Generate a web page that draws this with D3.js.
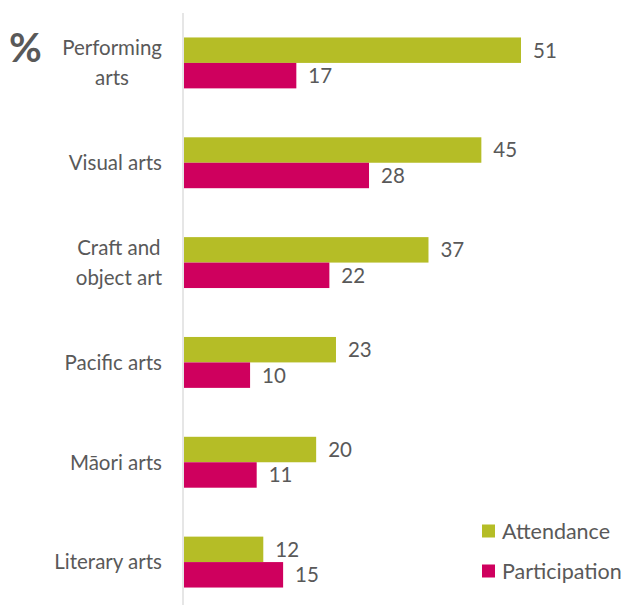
<!DOCTYPE html>
<html><head><meta charset="utf-8">
<script src="https://cdn.jsdelivr.net/npm/d3@7"></script>
<style>body{margin:0;background:#fff}svg{display:block}text{font-family:Lato,"Open Sans",sans-serif}</style>
</head><body>
<svg id="c" width="624" height="605"></svg>
<script>
const categories = [["Performing","arts"],["Visual arts"],["Craft and","object art"],["Pacific arts"],["Māori arts"],["Literary arts"]];
const seriesNames = ["Attendance","Participation"];
const attendance = [51,45,37,23,20,12];
const participation = [17,28,22,10,11,15];
const colors = ["#B5BD26","#CF005E"];

const svg = d3.select("#c");
const x0 = 184;
const x = d3.scaleLinear().domain([0,51]).range([x0, 521]);
const keys = categories.map((c,i)=>i);
const y = d3.scaleBand().domain(keys).range([13, 612]).paddingInner(0.49).paddingOuter(0.245);
const yi = d3.scaleBand().domain([0,1]).range([0, y.bandwidth()]);
const gray = "#595959";

svg.append("line").attr("x1",183).attr("x2",183).attr("y1",13).attr("y2",605)
  .attr("stroke","#d9d9d9").attr("stroke-width",1.3);

const series = [attendance, participation];
keys.forEach(i=>{
  series.forEach((s,j)=>{
    const yy = y(i)+yi(j);
    svg.append("rect").attr("x",x(0)).attr("y",yy).attr("width",x(s[i])-x(0)).attr("height",yi.bandwidth())
      .attr("fill",colors[j]);
    svg.append("text").attr("x",x(s[i])+12).attr("y",yy+yi.bandwidth()/2).attr("dy","0.36em")
      .attr("font-size",20.5).attr("fill",gray).text(s[i]);
  });
  const lines = categories[i];
  const cy = y(i)+y.bandwidth()/2;
  const g = svg.append("text").attr("font-size",20.5).attr("fill",gray).attr("text-anchor","middle");
  const ts = lines.map((l,k)=>g.append("tspan").text(l));
  const w = d3.max(ts, t=>t.node().getComputedTextLength());
  const cx = 162 - w/2;
  const lh = 30;
  ts.forEach((t,k)=>t.attr("x",cx).attr("y",cy + (k-(lines.length-1)/2)*lh).attr("dy","0.36em"));
});

svg.append("text").attr("x",9).attr("y",62).attr("font-size",40).style("font-weight","bold").attr("fill",gray).text("%");

seriesNames.forEach((n,j)=>{
  const ly = 531 + j*40;
  svg.append("rect").attr("x",482).attr("y",ly-6.5).attr("width",13).attr("height",13).attr("fill",colors[j]);
  svg.append("text").attr("x",502).attr("y",ly).attr("dy","0.36em").attr("font-size",21.5).attr("fill",gray).text(n);
});
</script>
</body></html>
